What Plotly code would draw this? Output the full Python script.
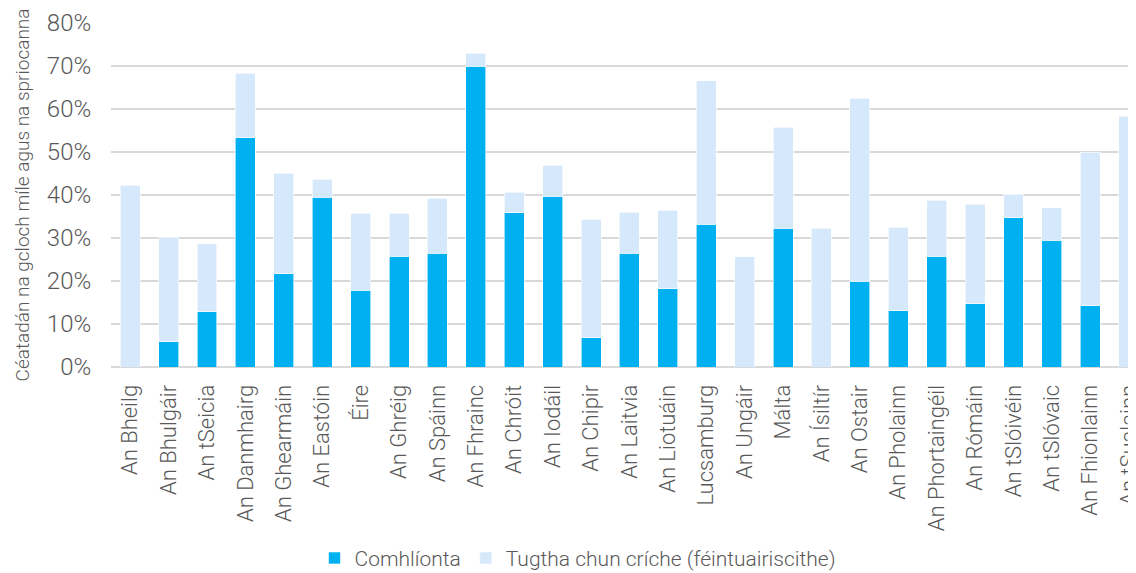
import plotly.graph_objects as go

countries = ["An Bheilg", "An Bhulgáir", "An tSeicia", "An Danmhairg", "An Ghearmáin",
             "An Eastóin", "Éire", "An Ghréig", "An Spáinn", "An Fhrainc", "An Chróit",
             "An Iodáil", "An Chipir", "An Laitvia", "An Liotuáin", "Lucsamburg",
             "An Ungáir", "Málta", "An Ísiltír", "An Ostair", "An Pholainn",
             "An Phortaingéil", "An Rómáin", "An tSlóivéin", "An tSlóvaic",
             "An Fhionlainn", "An tSualainn"]

# Comhlíonta (completed), percent
comhlionta = [0.0, 5.9, 12.8, 53.3, 21.7, 39.5, 17.9, 25.7, 26.5, 69.9, 35.9,
              39.7, 6.8, 26.5, 18.2, 33.2, 0.0, 32.3, 0.0, 20.0, 13.1,
              25.8, 14.7, 34.7, 29.5, 14.2, 0.0]
# Total (completed + self-reported), percent
iomlan = [42.3, 30.1, 28.7, 68.3, 45.1, 43.7, 35.8, 35.8, 39.2, 73.0, 40.6,
          46.9, 34.4, 36.0, 36.4, 66.6, 25.6, 55.8, 32.3, 62.5, 32.5,
          38.8, 37.9, 40.2, 37.0, 49.9, 58.3]
tugtha = [round(t - c, 1) for t, c in zip(iomlan, comhlionta)]

comhl_frac = [v / 100 for v in comhlionta]
tug_frac = [v / 100 for v in tugtha]

grey = "#595959"
fnt = "Roboto"

fig = go.Figure()
fig.add_trace(go.Bar(x=countries, y=comhl_frac, name="Comhlíonta",
                     marker=dict(color="#00B0F0", line=dict(color="#FFFFFF", width=0.6))))
fig.add_trace(go.Bar(x=countries, y=tug_frac, name="Tugtha chun críche (féintuairiscithe)",
                     marker=dict(color="#D6E8FB", line=dict(color="#FFFFFF", width=0.6))))

fig.update_layout(
    barmode="stack",
    bargap=0.48,
    width=1128, height=565,
    margin=dict(l=103, r=0, t=15, b=206),
    paper_bgcolor="white", plot_bgcolor="white",
    font=dict(family=fnt, color=grey, size=21, weight=300),
    showlegend=True,
    legend=dict(orientation="h", x=0.4556, xanchor="center",
                yref="container", y=0.026, yanchor="middle",
                font=dict(family=fnt, size=21, color=grey, weight=300),
                itemwidth=30, traceorder="normal"),
)
fig.update_xaxes(
    type="category",
    range=[-0.5, 26.19],
    automargin=False,
    tickangle=-90,
    ticks="outside", ticklen=8, tickcolor="rgba(0,0,0,0)",
    tickfont=dict(family=fnt, size=22, color=grey, weight=300),
    showgrid=False, showline=False, zeroline=False,
)
fig.update_yaxes(
    range=[0, 0.8],
    dtick=0.1,
    automargin=False,
    tickformat=".0%",
    ticks="outside", ticklen=14, tickcolor="rgba(0,0,0,0)",
    tickfont=dict(family=fnt, size=24, color=grey, weight=300),
    showgrid=True, gridcolor="#D9D9D9", gridwidth=1.5,
    zeroline=True, zerolinecolor="#D9D9D9", zerolinewidth=1.5,
    title=dict(text="Céatadán na gcloch míle agus na spriocanna",
               font=dict(family=fnt, size=19, color=grey, weight=300), standoff=12),
)

fig.write_html("out.html")
